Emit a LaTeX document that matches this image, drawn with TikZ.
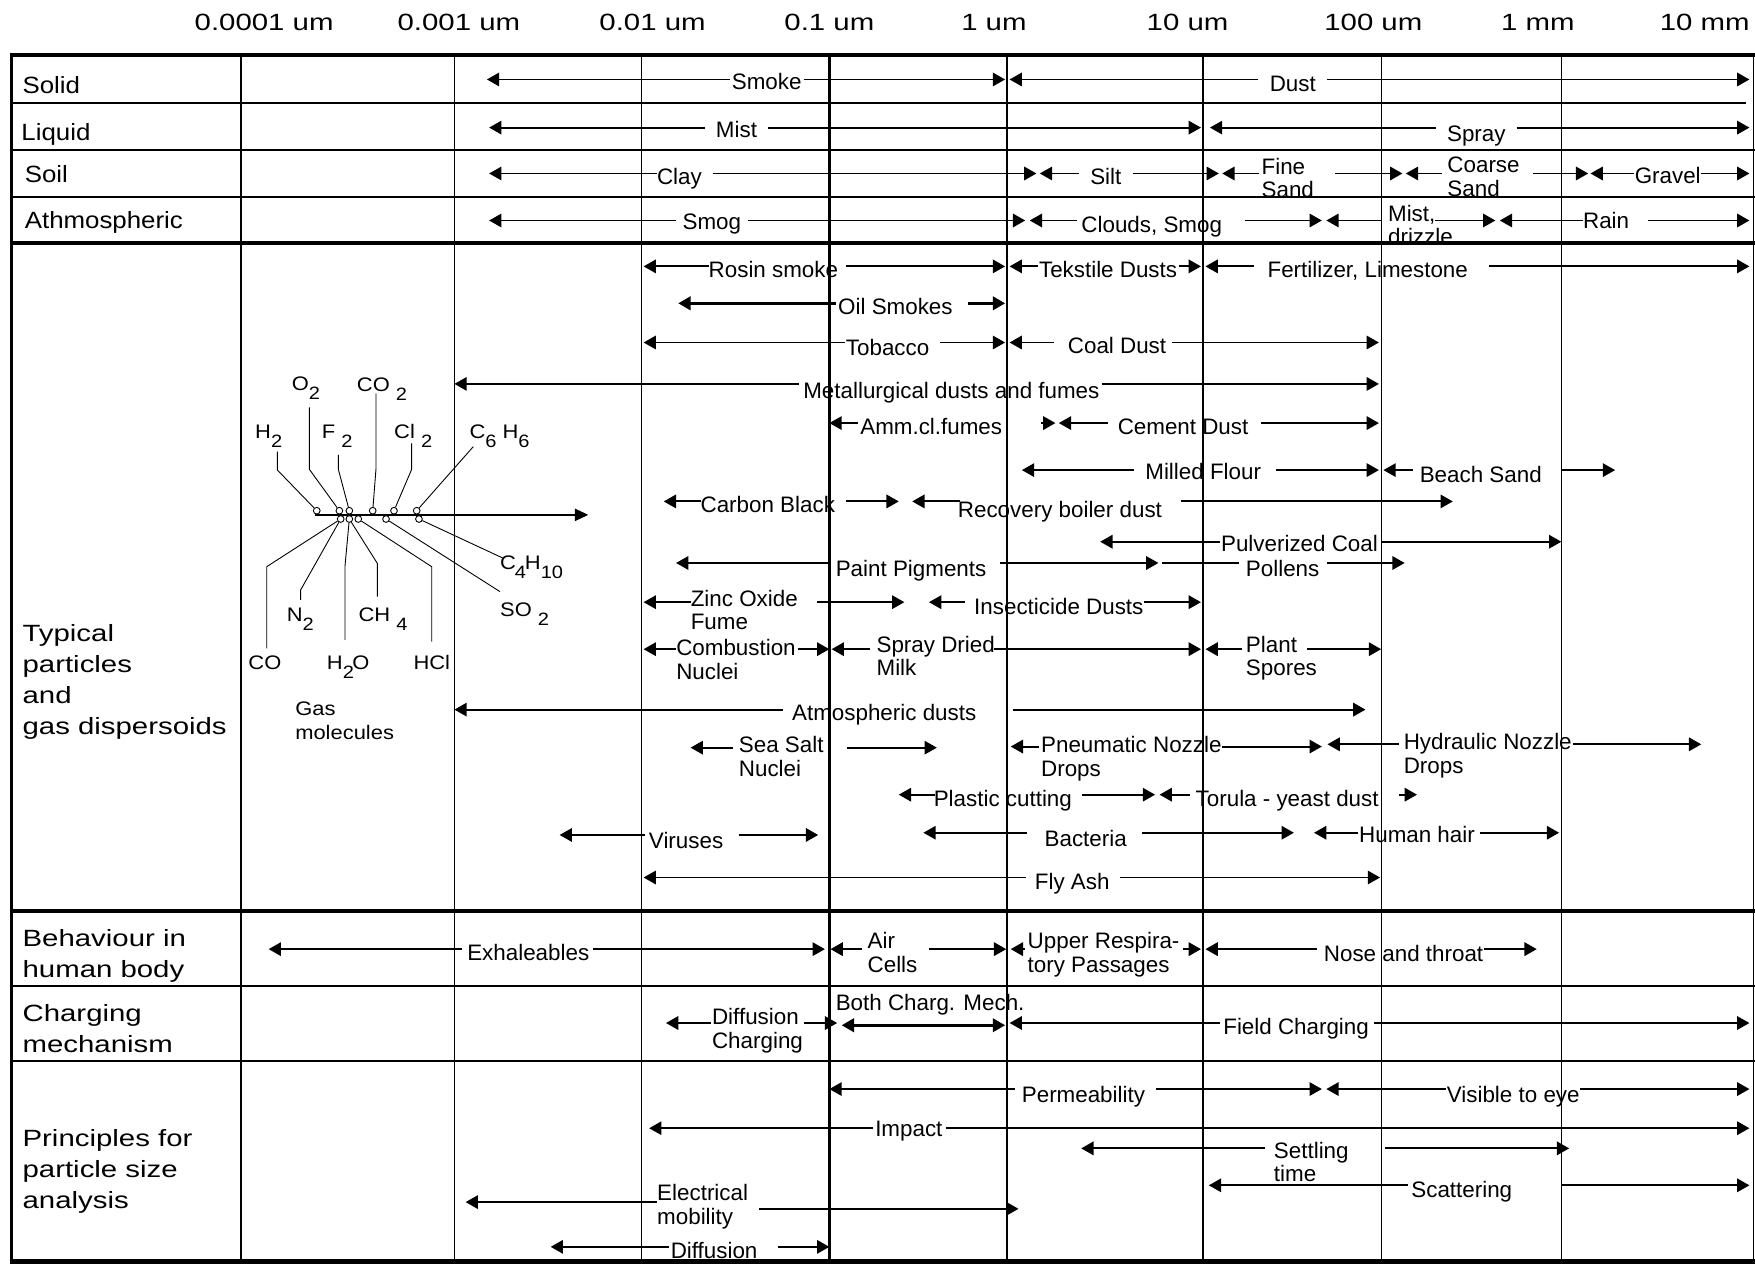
\documentclass[tikz,border=0pt]{standalone}
\usepackage{fontspec}
\setmainfont{Liberation Sans}
\newfontfamily\rowfam{Liberation Sans}[FakeStretch=1.1]
\newfontfamily\bigfam{Liberation Sans}[FakeStretch=1.25]
\newfontfamily\molfam{Liberation Sans}[FakeStretch=1.12]
\usetikzlibrary{arrows.meta}
\newcommand\dn[1]{\raisebox{-8pt}{\fontsize{16}{16}\selectfont #1}}
\newcommand\rg[8]{%
  \coordinate (#1L) at (#2,#6);
  \coordinate (#1a) at (#3,#6);
  \coordinate (#1b) at (#4,#6);
  \coordinate (#1R) at (#5,#6);
  \node[lab] (#1) #7 {#8};
  \draw[tl] (#1L) -- (#1a);
  \draw[tr] (#1b) -- (#1R);
}
\tikzset{
  seg/.style={line width=1.7pt},
  tl/.style={seg, arrows={Triangle[length=11pt,width=12pt]-}},
  tr/.style={seg, arrows={-Triangle[length=11pt,width=12pt]}},
  tlr/.style={seg, arrows={Triangle[length=11pt,width=12pt]-Triangle[length=11pt,width=12pt]}},
  lab/.style={inner sep=0pt, font=\fontsize{20}{21}\selectfont},
  bl/.style={anchor=base},
  nwl/.style={anchor=north west, align=left},
  axl/.style={anchor=base, inner sep=0pt, font=\bigfam\fontsize{21}{21}\selectfont},
  rowl/.style={anchor=base west, inner sep=0pt, font=\rowfam\fontsize{21}{21}\selectfont},
  bigl/.style={anchor=north west, align=left, inner sep=0pt, font=\bigfam\fontsize{21}{27.7}\selectfont},
  mol/.style={anchor=base west, inner sep=0pt, font=\molfam\fontsize{17.5}{21}\selectfont},
  mc/.style={circle, draw, line width=0.8pt, minimum size=6pt, inner sep=0pt, fill=white},
  ml/.style={line width=0.8pt},
}
\begin{document}
\begin{tikzpicture}[x=1pt,y=-1pt]
\useasboundingbox (0,0) rectangle (1568,1129);
% ---------- grid ----------
\draw[line width=4pt] (8.5,49) -- (1568,49);
\draw[line width=1.2pt] (10,92) -- (1560,92);
\draw[line width=1.2pt] (10,134) -- (1568,134);
\draw[line width=1.2pt] (10,176) -- (1568,176);
\draw[line width=3.5pt] (10,217) -- (1568,217);
\draw[line width=3pt] (10,814) -- (1568,814);
\draw[line width=1.5pt] (10,881) -- (1568,881);
\draw[line width=2pt] (10,948) -- (1568,948);
\draw[line width=4pt] (8.5,1127) -- (1568,1127);
\draw[line width=3pt] (10,49) -- (10,1129);
\foreach \x/\w in {215/2,406/1,573/1,741/2,900/2,1075/1.3,1234/1,1395/1,1566.5/1.5}
  \draw[line width=\w pt] (\x,49) -- (\x,1127);
% ---------- axis ----------
\node[axl] (a1) at (236,27.5) {0.0001 um};
\node[axl] (a2) at (410,27.5) {0.001 um};
\node[axl] (a3) at (583,27.5) {0.01 um};
\node[axl] (a4) at (741,27.5) {0.1 um};
\node[axl] (a5) at (888,27.5) {1 um};
\node[axl] (a6) at (1061,27.5) {10 um};
\node[axl] (a7) at (1227,27.5) {100 um};
\node[axl] (a8) at (1374,27.5) {1 mm};
\node[axl] (a9) at (1523,27.5) {10 mm};
% ---------- row labels ----------
\node[rowl] (r1) at (20,83.5) {Solid};
\node[rowl] (r2) at (19,125.5) {Liquid};
\node[rowl] (r3) at (22,163.5) {Soil};
\node[rowl] (r4) at (22,204.5) {Athmospheric};
\node[bigl] (r5) at (20,557.5) {Typical\\particles\\and\\gas dispersoids};
\node[bigl] (r6) at (20,830.5) {Behaviour in\\human body};
\node[bigl] (r7) at (20,897.5) {Charging\\mechanism};
\node[bigl] (r8) at (20,1008.5) {Principles for\\particle size\\analysis};
% ---------- top rows ----------
\rg{smoke}{435}{652}{718}{898}{71}{[bl] at (685,80)}{Smoke}
\rg{dust}{902}{1124}{1186}{1563}{71}{[bl] at (1155,82)}{Dust}
\rg{mist}{437}{630}{686}{1073}{114}{[bl] at (658,123)}{Mist}
\rg{spray}{1081}{1283}{1355}{1563}{114}{[bl] at (1319,126)}{Spray}
\rg{clay}{437}{587}{637}{926}{155}{[bl] at (607,165)}{Clay}
\rg{silt}{929}{964}{1012}{1089}{155}{[bl] at (988,165)}{Silt}
\rg{fsand}{1092}{1125}{1193}{1253}{155}{[nwl] at (1127,141)}{Fine\\Sand}
\rg{csand}{1256}{1288}{1370}{1419}{155}{[nwl] at (1293,140)}{Coarse\\Sand}
\rg{gravel}{1421}{1460}{1520}{1563}{155}{[bl] at (1490,164)}{Gravel}
\rg{smog}{437}{604}{668}{916}{197}{[bl] at (636,205)}{Smog}
\rg{clouds}{920}{962}{1112}{1181}{197}{[bl] at (1029,208)}{Clouds, Smog}
\rg{drizzle}{1185}{1235}{1282}{1336}{197}{[nwl] at (1240,183)}{Mist,\\drizzle}
\rg{rain}{1340}{1414}{1472}{1563}{197}{[bl] at (1435,204)}{Rain}
% ---------- typical particles ----------
\rg{rosin}{575}{633}{756}{898}{238}{[bl] at (691,248)}{Rosin smoke}
\rg{tekst}{902}{927}{1053}{1073}{238}{[bl] at (990,248)}{Tekstile Dusts}
\rg{fert}{1077}{1120}{1330}{1563}{238}{[bl] at (1222,248)}{Fertilizer, Limestone}
\begin{scope}[seg/.style={line width=2.5pt}]
\rg{oil}{606}{747}{865}{898}{271}{[bl] at (800,281)}{Oil Smokes}
\end{scope}
\rg{tob}{575}{755}{840}{898}{306}{[bl] at (793,318)}{Tobacco}
\rg{coal}{902}{942}{1047}{1232}{306}{[bl] at (998,316)}{Coal Dust}
\rg{metal}{406}{714}{985}{1232}{343}{[bl] at (850,356)}{Metallurgical dusts and fumes}
\rg{amm}{741}{767}{930}{943}{378}{[bl] at (832,388)}{Amm.cl.fumes}
\rg{cement}{946}{990}{1127}{1232}{378}{[bl] at (1057,388)}{Cement Dust}
\rg{flour}{913}{1013}{1140}{1232}{420}{[bl] at (1075,428)}{Milled Flour}
\rg{beach}{1236}{1262}{1395}{1443}{420}{[bl] at (1323,431)}{Beach Sand}
\rg{carbon}{593}{626}{756}{803}{448}{[bl] at (686,458)}{Carbon Black}
\rg{recov}{815}{858}{1055}{1298}{448}{[bl] at (947,462)}{Recovery boiler dust}
\rg{pulv}{983}{1090}{1234}{1395}{484}{[bl] at (1161,493)}{Pulverized Coal}
\rg{paint}{604}{742}{893}{1035}{503}{[bl] at (814,515)}{Paint Pigments}
\coordinate (polL) at (1038,503); \coordinate (pola) at (1107,503);
\coordinate (polb) at (1186,503); \coordinate (polR) at (1255,503);
\node[lab,bl] (pol) at (1146,515) {Pollens};
\draw[seg] (polL) -- (pola);
\draw[tr] (polb) -- (polR);
\rg{zinc}{575}{617}{730}{808}{538}{[nwl] at (617,527)}{Zinc Oxide\\Fume}
\rg{insect}{830}{862}{1022}{1073}{538}{[bl] at (946,549)}{Insecticide Dusts}
\rg{comb}{575}{604}{713}{741}{580}{[nwl] at (604,571)}{Combustion\\Nuclei}
\rg{sdm}{743}{777}{888}{1073}{580}{[nwl] at (783,568)}{Spray Dried\\Milk}
\rg{plant}{1077}{1110}{1168}{1234}{580}{[nwl] at (1113,568)}{Plant\\Spores}
\rg{atmd}{406}{700}{905}{1220}{634}{[bl] at (790,644)}{Atmospheric dusts}
\rg{seasalt}{617}{655}{757}{837}{668}{[nwl] at (660,658)}{Sea Salt\\Nuclei}
\rg{pneu}{903}{928}{1092}{1181}{667}{[nwl] at (930,658)}{Pneumatic Nozzle\\Drops}
\rg{hydr}{1186}{1250}{1405}{1520}{665}{[nwl] at (1254,655)}{Hydraulic Nozzle\\Drops}
\rg{plast}{803}{835}{967}{1032}{710}{[bl] at (896,721)}{Plastic cutting}
\rg{torula}{1036}{1063}{1250}{1266}{710}{[bl] at (1150,721)}{Torula - yeast dust}
\rg{virus}{500}{576}{660}{731}{746}{[bl] at (613,758)}{Viruses}
\rg{bact}{825}{918}{1020}{1156}{744}{[bl] at (970,756)}{Bacteria}
\rg{hair}{1174}{1213}{1322}{1393}{744}{[bl] at (1266,753)}{Human hair}
\rg{fly}{575}{917}{1001}{1233}{784}{[bl] at (958,795)}{Fly Ash}
% ---------- behaviour ----------
\rg{exh}{240}{413}{530}{737}{848}{[bl] at (472,858)}{Exhaleables}
\rg{air}{742}{770}{830}{899}{848}{[nwl] at (775,833)}{Air\\Cells}
\rg{upper}{903}{916}{1057}{1073}{848}{[nwl] at (918,833)}{Upper Respira-\\tory Passages}
\rg{nose}{1077}{1177}{1326}{1373}{848}{[bl] at (1254,859)}{Nose and throat}
% ---------- charging ----------
\rg{diffc}{595}{635}{718}{748}{914}{[nwl] at (636,901)}{Diffusion\\Charging}
\node[lab,bl] (both) at (831,903) {Both Charg. Mech.};
\coordinate (bothL) at (752,916); \coordinate (bothR) at (898,916);
\draw[tlr, line width=2.3pt] (bothL) -- (bothR);
\rg{field}{902}{1090}{1228}{1563}{914}{[bl] at (1158,924)}{Field Charging}
% ---------- principles ----------
\rg{perm}{741}{907}{1033}{1181}{973}{[bl] at (968,985)}{Permeability}
\rg{vis}{1185}{1292}{1412}{1563}{973}{[bl] at (1352,985)}{Visible to eye}
\rg{imp}{580}{780}{845}{1563}{1008}{[bl] at (812,1015)}{Impact}
\rg{settle}{966}{1130}{1237}{1402}{1026}{[nwl] at (1138,1020)}{Settling\\time}
\rg{scat}{1080}{1258}{1395}{1563}{1059}{[bl] at (1306,1070)}{Scattering}
\coordinate (elL) at (416,1074); \coordinate (ela) at (587,1074);
\coordinate (elb) at (678,1080); \coordinate (elR) at (910,1080);
\node[lab,nwl] (el) at (587,1058) {Electrical\\mobility};
\draw[tl] (elL) -- (ela);
\draw[tr] (elb) -- (elR);
\rg{diff}{492}{598}{695}{741}{1114}{[bl] at (638,1124)}{Diffusion}
% ---------- gas molecules ----------
\coordinate (axs) at (281.5,460); \coordinate (axe) at (525.6,460);
\draw[line width=1.2pt, arrows={-Triangle[length=12pt,width=11pt]}] (axs) -- (axe);
\node[mc] (c1) at (283,456.3) {};
\node[mc] (c2) at (303.2,456.3) {};
\node[mc] (c3) at (312.1,456.3) {};
\node[mc] (c4) at (333,456.3) {};
\node[mc] (c5) at (352,456.3) {};
\node[mc] (c6) at (372.3,456.3) {};
\node[mc] (d1) at (304.4,463.7) {};
\node[mc] (d2) at (312.1,463.7) {};
\node[mc] (d3) at (320.1,463.7) {};
\node[mc] (d4) at (344.9,463.7) {};
\node[mc] (d5) at (374.3,463.7) {};
\node[mol] (mH2) at (227.8,391.8) {H\dn{2}};
\node[mol] (mO2) at (260.6,348.6) {O\dn{2}};
\node[mol] (mF2) at (287.4,391.8) {F \dn{2}};
\node[mol] (mCO2) at (318.7,350.1) {CO \dn{2}};
\node[mol] (mCl2) at (352,391.8) {Cl \dn{2}};
\node[mol] (mC6H6) at (419.3,391.8) {C\dn{6} H\dn{6}};
\node[mol] (mC4H10) at (446.7,508.8) {C\kern-1pt\dn{4}\kern-1pt H\dn{10}};
\node[mol] (mSO2) at (446.7,551) {SO \dn{2}};
\node[mol] (mN2) at (256.1,555.4) {N\dn{2}};
\node[mol] (mCH4) at (320.1,555.4) {CH \dn{4}};
\node[mol] (mCO) at (221.8,598.6) {CO};
\node[mol] (mH2O) at (291.9,598.6) {H\dn{2}\kern-1.5pt O};
\node[mol] (mHCl) at (369.3,598.6) {HCl};
\node[mol, anchor=north west, align=left] (gasm) at (263.6,627) {Gas\\molecules};
\draw[ml] (c1) -- (247.8,419.9) -- (247.8,403.5);
\draw[ml] (c2) -- (276.4,419.3) -- (276.4,363.9);
\draw[ml] (c3) -- (302.3,419.3) -- (302.3,406.5);
\draw[ml] (c4) -- (335.9,419.3) -- (335.9,351.4);
\draw[ml] (c5) -- (367.8,419.3) -- (367.8,396.1);
\draw[ml] (c6) -- (422.9,399);
\draw[ml] (d1) -- (238.3,506.3) -- (238.3,579.2);
\draw[ml] (d1) -- (268.6,527.1) -- (268.6,536);
\draw[ml] (d2) -- (308.2,506.3) -- (308.2,571.8);
\draw[ml] (d2) -- (337.1,503.3) -- (337.1,533.1);
\draw[ml] (d3) -- (385.7,506.3) -- (385.7,573.3);
\draw[ml] (d4) -- (446.7,528.6);
\draw[ml] (d5) -- (449.7,498.8);
\end{tikzpicture}
\end{document}
